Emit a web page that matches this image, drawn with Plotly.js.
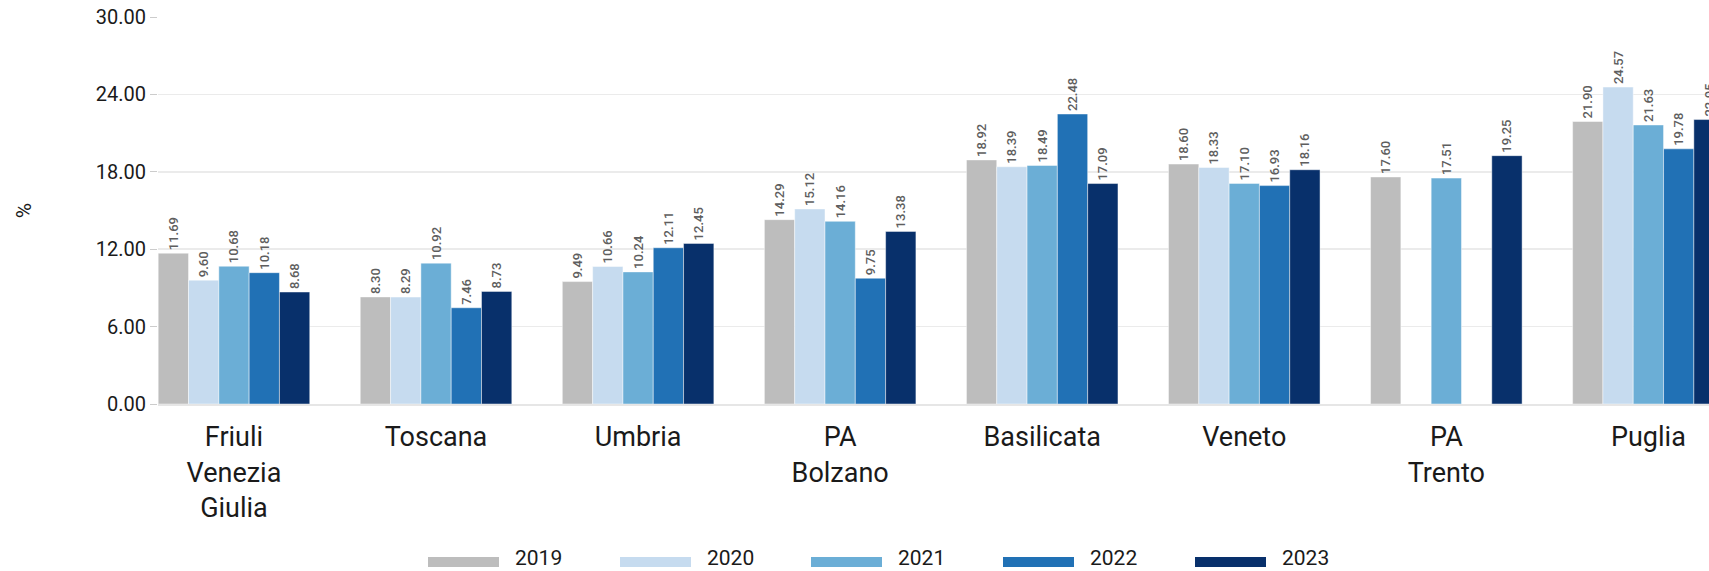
<!DOCTYPE html>
<html>
<head>
<meta charset="utf-8">
<script src="https://cdn.plot.ly/plotly-3.0.1.min.js"></script>
<style>
html,body{margin:0;padding:0;background:#fff;overflow:hidden;}
#chart{width:1709px;height:571px;}
</style>
</head>
<body>
<div id="chart"></div>
<script>
const categories = ["Friuli<br>Venezia<br>Giulia", "Toscana", "Umbria", "PA<br>Bolzano", "Basilicata", "Veneto", "PA<br>Trento", "Puglia"];
const years = ["2019", "2020", "2021", "2022", "2023"];
const v2019 = [11.69, 8.30, 9.49, 14.29, 18.92, 18.60, 17.60, 21.90];
const v2020 = [9.60, 8.29, 10.66, 15.12, 18.39, 18.33, null, 24.57];
const v2021 = [10.68, 10.92, 10.24, 14.16, 18.49, 17.10, 17.51, 21.63];
const v2022 = [10.18, 7.46, 12.11, 9.75, 22.48, 16.93, null, 19.78];
const v2023 = [8.68, 8.73, 12.45, 13.38, 17.09, 18.16, 19.25, 22.05];
const yTicks = [0, 6, 12, 18, 24, 30];
const colors = ["#bdbdbd", "#c6dbef", "#6baed6", "#2171b5", "#08306b"];

const series = [v2019, v2020, v2021, v2022, v2023];
const FONT = "Roboto, 'Noto Sans', sans-serif";

const traces = series.map((vals, i) => ({
  type: "bar",
  name: years[i],
  x: categories,
  y: vals,
  marker: {color: colors[i], line: {color: "rgba(255,255,255,0.45)", width: 1}},
  text: vals.map(v => v === null ? "" : v.toFixed(2)),
  textposition: "outside",
  textangle: -90,
  constraintext: "none",
  textfont: {family: FONT, size: 13, color: "#5e5e5e", weight: 500},
  cliponaxis: true,
  hoverinfo: "x+y",
  showlegend: false
}));

// plot area geometry (px) used to place the custom legend in paper units
const L = 158, R = 1709, T = 17, B = 404;
const W = R - L, H = B - T;
const px = x => (x - L) / W;
const py = y => (B - y) / H;
const swatchX = [428, 620, 811, 1003, 1195];

const shapes = [];
const annotations = [];
years.forEach((yr, i) => {
  shapes.push({type: "rect", xref: "paper", yref: "paper",
    x0: px(swatchX[i]), x1: px(swatchX[i] + 71), y0: py(567), y1: py(557),
    fillcolor: colors[i], line: {width: 0}});
  annotations.push({xref: "paper", yref: "paper", x: px(swatchX[i] + 85), y: py(558),
    xanchor: "left", yanchor: "middle", text: yr, showarrow: false,
    font: {family: FONT, size: 21, color: "#1a1a1a"}});
});

const layout = {
  width: 1709, height: 571,
  margin: {l: L, r: 0, t: T, b: 571 - B},
  paper_bgcolor: "#fff", plot_bgcolor: "#fff",
  barmode: "group", bargap: 0.25, bargroupgap: 0,
  font: {family: FONT, color: "#1a1a1a"},
  xaxis: {
    type: "category", range: [-0.376, 7.30], showgrid: false,
    showline: true, linecolor: "#e6e6e6", linewidth: 2,
    ticks: "", tickfont: {family: FONT, size: 27, color: "#1a1a1a"},
    ticklabelstandoff: 8, fixedrange: true
  },
  yaxis: {
    range: [0, 30], tickvals: yTicks, tickformat: ".2f",
    showgrid: true, gridcolor: "#ebebeb", gridwidth: 1.5,
    zeroline: false, ticks: "outside", ticklen: 7, tickcolor: "#cccccc",
    tickfont: {family: FONT, size: 20, color: "#1a1a1a"},
    title: {text: "%", font: {family: FONT, size: 21, color: "#1a1a1a"}, standoff: 58},
    fixedrange: true
  },
  shapes: shapes,
  annotations: annotations,
  showlegend: false
};

Plotly.newPlot("chart", traces, layout, {displayModeBar: false, staticPlot: true});
</script>
</body>
</html>
